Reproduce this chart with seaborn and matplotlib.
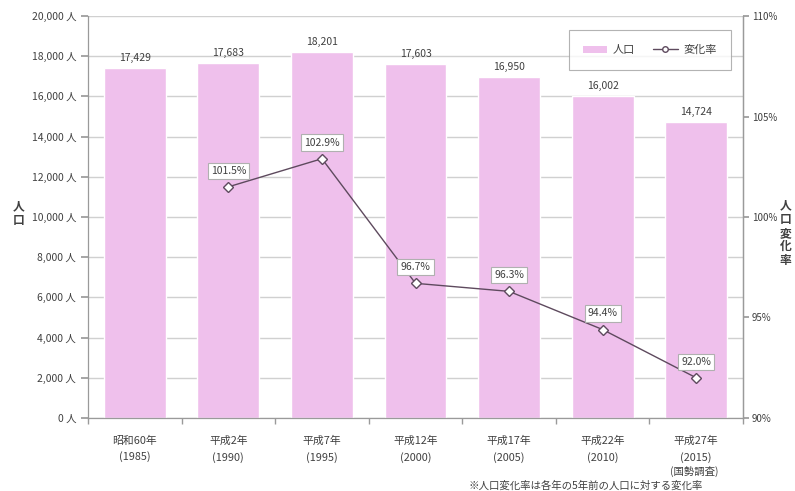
import numpy as np
import pandas as pd
import matplotlib
matplotlib.use("Agg")
import matplotlib.pyplot as plt
import seaborn as sns
from matplotlib.ticker import FuncFormatter, MultipleLocator, FixedLocator

# ---- data ----
categories = ["昭和60年\n(1985)", "平成2年\n(1990)", "平成7年\n(1995)", "平成12年\n(2000)",
              "平成17年\n(2005)", "平成22年\n(2010)", "平成27年\n(2015)"]
population = [17429, 17683, 18201, 17603, 16950, 16002, 14724]
rate_categories = categories[1:]
rate = [101.5, 102.9, 96.7, 96.3, 94.4, 92.0]

sns.set_theme(style="white")
plt.rcParams['font.family'] = ['Noto Sans CJK JP', 'DejaVu Sans']

TXT = "#404040"
BAR = "#EFC0EC"
LINE = "#5E4A5E"
GRID = "#D0D0D0"

fig = plt.figure(figsize=(7.95, 4.91), dpi=100)
ax = fig.add_axes([0.1107, 0.1487, 0.8239, 0.8187])

df = pd.DataFrame({"cat": categories, "pop": population})
sns.barplot(data=df, x="cat", y="pop", color=BAR, saturation=1, width=0.66, ax=ax, zorder=2)
ax.set_ylim(0, 20000)
ax.set_xlim(-0.5, len(categories) - 0.5)
ax.yaxis.set_major_locator(MultipleLocator(2000))
ax.yaxis.set_major_formatter(FuncFormatter(lambda v, p: f"{int(v):,} 人"))
ax.grid(axis="y", color=GRID, linewidth=1.0, zorder=0)
ax.set_axisbelow(True)
ax.set_xlabel("")
ax.set_ylabel("")
ax.spines["top"].set_visible(False)
for s in ["left", "bottom", "right"]:
    ax.spines[s].set_color("#9A9A9A")
    ax.spines[s].set_linewidth(0.9)
ax.tick_params(axis="y", labelsize=7.5, colors=TXT, length=5, color="#9A9A9A", direction="out", left=True)
ax.tick_params(axis="x", labelsize=7.8, colors=TXT, length=0, pad=13)
ax.xaxis.set_minor_locator(FixedLocator(np.arange(-0.5, len(categories), 1.0)))
ax.tick_params(axis="x", which="minor", length=4, color="#9A9A9A", direction="out", bottom=True)
for lbl in ax.get_xticklabels():
    lbl.set_linespacing(1.6)

for i, v in enumerate(population):
    ax.text(i, v + 250, f"{v:,}", ha="center", va="bottom", fontsize=7.5, color=TXT, zorder=5)

# ---- change-rate line ----
ax2 = ax.twinx()
pos = [categories.index(c) for c in rate_categories]
rdf = pd.DataFrame({"x": pos, "rate": rate})
sns.lineplot(data=rdf, x="x", y="rate", ax=ax2, color=LINE, linewidth=1.0,
             marker="D", markersize=5, markerfacecolor="white", markeredgecolor=LINE,
             markeredgewidth=1.0, zorder=4)
ax2.set_ylim(90, 110)
ax2.set_xlim(-0.5, len(categories) - 0.5)
ax2.yaxis.set_major_locator(MultipleLocator(5))
ax2.yaxis.set_major_formatter(FuncFormatter(lambda v, p: f"{int(v)}%"))
ax2.tick_params(axis="y", labelsize=7, colors=TXT, length=4, pad=2.5, color="#9A9A9A", direction="out")
ax2.set_ylabel("")
ax2.set_xlabel("")
for s in ["top", "left", "bottom"]:
    ax2.spines[s].set_visible(False)
ax2.spines["right"].set_color("#9A9A9A")
ax2.spines["right"].set_linewidth(0.9)

for x, r in zip(pos, rate):
    ax2.annotate(f"{r:.1f}%", (x, r), xytext=(0, 8), textcoords="offset points",
                 ha="center", va="bottom", fontsize=7.5, color=TXT, zorder=6,
                 bbox=dict(boxstyle="square,pad=0.3", fc="white", ec="#B0B0B0", lw=0.8))

# ---- legend ----
from matplotlib.patches import Patch
from matplotlib.lines import Line2D
handles = [Patch(facecolor=BAR, edgecolor="none"),
           Line2D([], [], color=LINE, lw=1.0, marker="o", markersize=4,
                  markerfacecolor="white", markeredgecolor=LINE)]
leg = ax2.legend(handles, ["人口", "変化率"], ncol=2, loc="upper right",
                 bbox_to_anchor=(0.99, 0.978), fontsize=8, frameon=True, fancybox=False,
                 edgecolor="#A0A0A0", handlelength=2.2, handleheight=0.6,
                 borderpad=1.3, columnspacing=1.6, handletextpad=0.5)
leg.get_frame().set_linewidth(0.8)
for t in leg.get_texts():
    t.set_color(TXT)

# ---- axis titles (stacked vertical characters) ----
fig.text(0.024, 0.565, "人\n口", ha="center", va="center", fontsize=8.5,
         color=TXT, fontweight="bold", linespacing=1.0)
fig.text(0.988, 0.525, "人\n口\n変\n化\n率", ha="center", va="center", fontsize=8.5,
         color=TXT, fontweight="bold", linespacing=1.05)

fig.text(0.873, 0.039, "(国勢調査)", ha="center", va="center", fontsize=7.5, color=TXT)
fig.text(0.737, 0.010, "※人口変化率は各年の5年前の人口に対する変化率", ha="center",
         va="center", fontsize=7.5, color=TXT)

fig.savefig("out.png", dpi=100)
